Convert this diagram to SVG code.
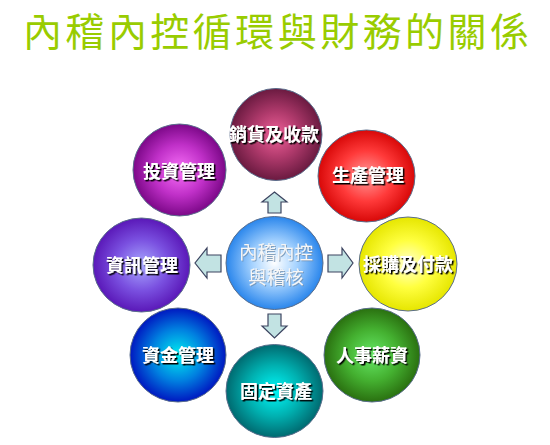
<svg xmlns="http://www.w3.org/2000/svg" width="550" height="445" viewBox="0 0 550 445">
<defs>
<style>
.title{font-family:"Noto Sans CJK TC","Noto Sans CJK SC",sans-serif;font-size:39px;fill:#99cc00;}
.lbl{font-family:"Noto Sans CJK TC","Noto Sans CJK SC",sans-serif;font-size:18px;font-weight:bold;fill:#ffffff;text-anchor:middle;filter:url(#sh);}
.ctr{font-family:"Noto Sans CJK TC","Noto Sans CJK SC",sans-serif;font-size:18.5px;fill:#f6f6f6;text-anchor:middle;filter:url(#sh2);}
.ball{stroke:#5a6e8c;stroke-width:1;}
.arr{fill:#c2e3e3;stroke:#3c4460;stroke-width:1.2;}
</style>
<filter id="sh" x="-10%" y="-20%" width="130%" height="150%">
<feDropShadow dx="1.5" dy="1.5" stdDeviation="0" flood-color="#000000" flood-opacity="1"/>
</filter>
<filter id="sh2" x="-10%" y="-20%" width="130%" height="150%">
<feDropShadow dx="1" dy="1" stdDeviation="0.3" flood-color="#7090b0" flood-opacity="0.8"/>
</filter>
<radialGradient id="gSales"><stop offset="0" stop-color="#ee6098"/><stop offset="0.5" stop-color="#b03a6c"/><stop offset="1" stop-color="#6a1a40"/></radialGradient>
<radialGradient id="gProd"><stop offset="0" stop-color="#ff9a9a"/><stop offset="0.55" stop-color="#ff3a3a"/><stop offset="1" stop-color="#d80808"/></radialGradient>
<radialGradient id="gPurch"><stop offset="0" stop-color="#ffffd0"/><stop offset="0.5" stop-color="#ffff40"/><stop offset="1" stop-color="#e6e600"/></radialGradient>
<radialGradient id="gHR"><stop offset="0" stop-color="#66e866"/><stop offset="0.55" stop-color="#44b030"/><stop offset="1" stop-color="#2a7010"/></radialGradient>
<radialGradient id="gFixed"><stop offset="0" stop-color="#00f8f8"/><stop offset="0.55" stop-color="#00b0b0"/><stop offset="1" stop-color="#006a70"/></radialGradient>
<radialGradient id="gFund"><stop offset="0" stop-color="#00eef0"/><stop offset="0.55" stop-color="#0080e0"/><stop offset="1" stop-color="#0018c0"/></radialGradient>
<radialGradient id="gInfo"><stop offset="0" stop-color="#a8a8ff"/><stop offset="0.55" stop-color="#7a50e0"/><stop offset="1" stop-color="#5a18b8"/></radialGradient>
<radialGradient id="gInv"><stop offset="0" stop-color="#f870f8"/><stop offset="0.55" stop-color="#c030c8"/><stop offset="1" stop-color="#7c0888"/></radialGradient>
<radialGradient id="gCtr"><stop offset="0" stop-color="#ffffff"/><stop offset="0.45" stop-color="#a8d4ff"/><stop offset="1" stop-color="#2a86ec"/></radialGradient>
</defs>
<rect width="550" height="445" fill="#ffffff"/>
<text class="title" x="276" y="46" text-anchor="middle" textLength="506" lengthAdjust="spacing">內稽內控循環與財務的關係</text>

<g id="connectors">
<path class="arr" d="M268,213 L268,202 L262,202 L274.5,192 L287,202 L281,202 L281,213 Z"/>
<path class="arr" d="M268,314 L268,326 L262,326 L274.5,338 L287,326 L281,326 L281,314 Z"/>
<path class="arr" d="M221,255 L207,255 L207,248 L195,263 L207,278 L207,272 L221,272 Z"/>
<path class="arr" d="M328,255 L342,255 L342,248 L353,263 L342,278 L342,272 L328,272 Z"/>
</g>

<g id="center">
<ellipse class="ball" cx="274.5" cy="263" rx="48.5" ry="46.5" fill="url(#gCtr)"/>
<text class="ctr" x="276" y="259">內稽內控</text>
<text class="ctr" x="276" y="284">與稽核</text>
</g>
<g id="sales">
<circle class="ball" cx="276" cy="134.5" r="46" fill="url(#gSales)"/>
<text class="lbl" x="274" y="141">銷貨及收款</text>
</g>
<g id="production">
<ellipse class="ball" cx="366.5" cy="176" rx="48.5" ry="46" fill="url(#gProd)"/>
<text class="lbl" x="368" y="182">生產管理</text>
</g>
<g id="purchase">
<ellipse class="ball" cx="408" cy="264" rx="49" ry="47" fill="url(#gPurch)"/>
<text class="lbl" x="408" y="271">採購及付款</text>
</g>
<g id="hr">
<ellipse class="ball" cx="372" cy="355" rx="48" ry="47" fill="url(#gHR)"/>
<text class="lbl" x="372" y="362">人事薪資</text>
</g>
<g id="fixed">
<ellipse class="ball" cx="274.5" cy="391" rx="48.5" ry="46.5" fill="url(#gFixed)"/>
<text class="lbl" x="276" y="398">固定資產</text>
</g>
<g id="fund">
<ellipse class="ball" cx="178" cy="355" rx="48" ry="47" fill="url(#gFund)"/>
<text class="lbl" x="178" y="362">資金管理</text>
</g>
<g id="info">
<ellipse class="ball" cx="141.5" cy="265" rx="48.5" ry="47" fill="url(#gInfo)"/>
<text class="lbl" x="142" y="272">資訊管理</text>
</g>
<g id="invest">
<ellipse class="ball" cx="179.5" cy="170" rx="46.5" ry="46" fill="url(#gInv)"/>
<text class="lbl" x="179" y="178">投資管理</text>
</g>
</svg>
